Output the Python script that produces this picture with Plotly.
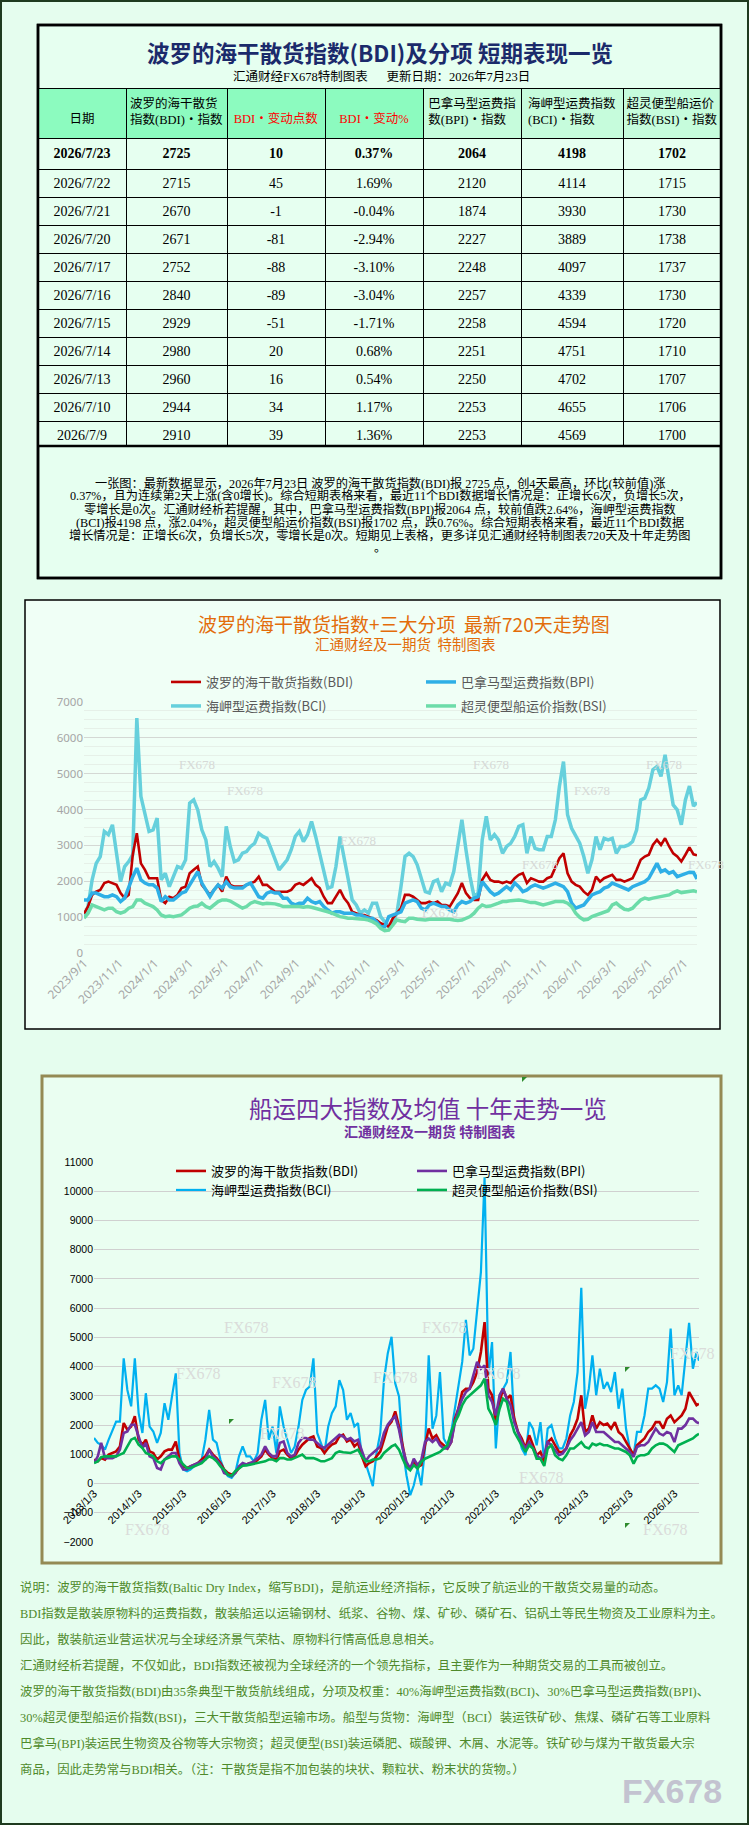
import plotly.graph_objects as go
import pandas as pd

W, H = 749, 1825


def px(x):
    return x / W


def py(y):
    return 1 - y / H


SANS = "Noto Sans CJK SC"
SERIF = "Liberation Serif, Noto Sans CJK SC"

# ---------------- table data ----------------
table_dates = ["2026/7/23", "2026/7/22", "2026/7/21", "2026/7/20", "2026/7/17", "2026/7/16",
               "2026/7/15", "2026/7/14", "2026/7/13", "2026/7/10", "2026/7/9"]
table_bdi = [2725, 2715, 2670, 2671, 2752, 2840, 2929, 2980, 2960, 2944, 2910]
table_chg = [10, 45, -1, -81, -88, -89, -51, 20, 16, 34, 39]
table_pct = ["0.37%", "1.69%", "-0.04%", "-2.94%", "-3.10%", "-3.04%", "-1.71%", "0.68%",
             "0.54%", "1.17%", "1.36%"]
table_bpi = [2064, 2120, 1874, 2227, 2248, 2257, 2258, 2251, 2250, 2253, 2253]
table_bci = [4198, 4114, 3930, 3889, 4097, 4339, 4594, 4751, 4702, 4655, 4569]
table_bsi = [1702, 1715, 1730, 1738, 1737, 1730, 1720, 1710, 1707, 1706, 1700]
table_headers = ["日期", "波罗的海干散货<br>指数(BDI)・指数", "BDI・变动点数", "BDI・变动%",
                 "巴拿马型运费指<br>数(BPI)・指数", "海岬型运费指数<br>(BCI)・指数",
                 "超灵便型船运价<br>指数(BSI)・指数"]

para_lines = [
    "一张图：最新数据显示，2026年7月23日 波罗的海干散货指数(BDI)报 2725 点，创4天最高，环比(较前值)涨",
    "0.37%，且为连续第2天上涨(含0增长)。综合短期表格来看，最近11个BDI数据增长情况是：正增长6次，负增长5次，",
    "零增长是0次。汇通财经析若提醒，其中，巴拿马型运费指数(BPI)报2064 点，较前值跌2.64%，海岬型运费指数",
    "(BCI)报4198 点，涨2.04%，超灵便型船运价指数(BSI)报1702 点，跌0.76%。综合短期表格来看，最近11个BDI数据",
    "增长情况是：正增长6次，负增长5次，零增长是0次。短期见上表格，更多详见汇通财经特制图表720天及十年走势图",
    "。",
]

note_lines = [
    "说明：波罗的海干散货指数(Baltic Dry Index，缩写BDI)，是航运业经济指标，它反映了航运业的干散货交易量的动态。",
    "BDI指数是散装原物料的运费指数，散装船运以运输钢材、纸浆、谷物、煤、矿砂、磷矿石、铝矾土等民生物资及工业原料为主。",
    "因此，散装航运业营运状况与全球经济景气荣枯、原物料行情高低息息相关。",
    "汇通财经析若提醒，不仅如此，BDI指数还被视为全球经济的一个领先指标，且主要作为一种期货交易的工具而被创立。",
    "波罗的海干散货指数(BDI)由35条典型干散货航线组成，分项及权重：40%海岬型运费指数(BCI)、30%巴拿马型运费指数(BPI)、",
    "30%超灵便型船运价指数(BSI)，三大干散货船型运输市场。船型与货物：海岬型（BCI）装运铁矿砂、焦煤、磷矿石等工业原料",
    "巴拿马(BPI)装运民生物资及谷物等大宗物资；超灵便型(BSI)装运磷肥、碳酸钾、木屑、水泥等。铁矿砂与煤为干散货最大宗",
    "商品，因此走势常与BDI相关。（注：干散货是指不加包装的块状、颗粒状、粉末状的货物。）",
]

# ---------------- chart 1 (720 days, weekly readings) ----------------
series_names = ["波罗的海干散货指数(BDI)", "巴拿马型运费指数(BPI)", "海岬型运费指数(BCI)", "超灵便型船运价指数(BSI)"]
c1_start, c1_end = "2023-09-01", "2026-07-23"
c1_bdi = [1100, 1300, 1620, 1710, 1760, 1950, 1990, 1950, 1900, 1670,
          1530, 1620, 2740, 3340, 2500, 2320, 2085, 2085, 2085, 1480,
          1390, 1570, 1530, 1620, 1810, 1850, 2225, 2320, 2410, 1900,
          1760, 1620, 1760, 1900, 1710, 2130, 1900, 1850, 1850, 1850,
          1900, 1950, 1990, 2130, 1900, 1900, 1810, 1710, 1710, 1710,
          1710, 1760, 1900, 1950, 1900, 1990, 2085, 1900, 1810, 1570,
          1390, 1390, 1570, 1760, 1530, 1390, 1150, 1110, 1060, 1060,
          1015, 970, 920, 830, 780, 735, 970, 1110, 1250, 1620,
          1620, 1570, 1480, 1390, 1390, 1435, 1390, 1435, 1340, 1340,
          1295, 1480, 1670, 1950, 1670, 1530, 1480, 1480, 2040, 2225,
          2040, 1990, 1990, 1950, 1990, 1950, 2085, 2180, 2225, 1950,
          2085, 2040, 1990, 1990, 2085, 2130, 2365, 2645, 2780, 2225,
          1990, 1900, 1850, 1710, 1620, 1760, 2130, 1990, 2085, 2130,
          2180, 2040, 2040, 1990, 2040, 2085, 2320, 2600, 2690, 2740,
          3015, 3155, 3015, 3200, 2970, 2780, 2690, 2550, 2740, 2944,
          2752, 2725]
c1_bpi = [1480, 1480, 1670, 1670, 1620, 1570, 1570, 1620, 1570, 1435,
          1530, 1850, 2130, 2365, 2040, 1950, 1900, 1900, 1810, 1435,
          1570, 1480, 1480, 1570, 1670, 1710, 1900, 2085, 2270, 1950,
          1760, 1570, 1760, 1900, 1810, 1990, 1850, 1810, 1810, 1810,
          1900, 1950, 1760, 1570, 1530, 1670, 1710, 1670, 1670, 1530,
          1530, 1390, 1340, 1390, 1390, 1530, 1435, 1390, 1435, 1295,
          1200, 1110, 1150, 1150, 1110, 1110, 1110, 1060, 1060, 1015,
          970, 970, 875, 735, 735, 1015, 1060, 1110, 1150, 1390,
          1435, 1480, 1435, 1250, 1200, 1340, 1390, 1340, 1295, 1295,
          1200, 1150, 1340, 1435, 1390, 1435, 1530, 1570, 1990, 1850,
          1710, 1620, 1670, 1760, 1850, 1760, 1950, 1850, 1710, 1760,
          1850, 1900, 1850, 1810, 1850, 1900, 1950, 1900, 1850, 1710,
          1390, 1250, 1295, 1340, 1480, 1620, 1670, 1710, 1810, 1850,
          1950, 1900, 1850, 1810, 1760, 1850, 1900, 1950, 1990, 2085,
          2270, 2500, 2270, 2320, 2225, 2270, 2130, 2180, 2225, 2253,
          2248, 2064]
c1_bci = [1015, 1300, 2040, 2500, 2690, 3390, 3300, 3575, 2780, 1990,
          2410, 2550, 2740, 6550, 4370, 3900, 3390, 3435, 3760, 2040,
          2225, 1850, 2130, 2410, 2365, 2600, 4180, 4270, 3990, 3435,
          3155, 2410, 2550, 2365, 2130, 3530, 2970, 2550, 2600, 2785,
          2830, 2970, 3060, 3340, 3250, 3200, 2920, 2600, 2320, 2460,
          2600, 2880, 3250, 3390, 3110, 3300, 3670, 3250, 2780, 2320,
          1810, 1850, 2410, 3250, 2690, 2130, 1480, 1340, 1110, 1200,
          1110, 1390, 1390, 1015, 875, 735, 875, 1110, 1850, 2690,
          2780, 2690, 2460, 2040, 1710, 1670, 1990, 2040, 1710, 1950,
          1900, 2270, 2970, 3715, 2880, 2130, 1570, 1670, 3155, 3810,
          3155, 3300, 3155, 2780, 2970, 3060, 3250, 3530, 3575, 2780,
          3250, 2920, 2880, 2880, 3250, 3250, 3715, 4650, 5340, 3855,
          3480, 3250, 3060, 2690, 2225, 2600, 3250, 2880, 3200, 3155,
          3200, 2780, 2970, 2970, 3015, 3110, 3435, 4270, 4320, 4600,
          5110, 5200, 4925, 5530, 4880, 4130, 3990, 3575, 4270, 4655,
          4097, 4198]
c1_bsi = [970, 1110, 1340, 1295, 1250, 1200, 1250, 1250, 1150, 1110,
          1150, 1250, 1295, 1480, 1480, 1390, 1340, 1295, 1200, 1060,
          1015, 1030, 1015, 1030, 1060, 1150, 1250, 1295, 1310, 1390,
          1295, 1250, 1340, 1435, 1480, 1480, 1450, 1390, 1310, 1250,
          1295, 1390, 1435, 1390, 1370, 1390, 1390, 1370, 1340, 1295,
          1295, 1295, 1310, 1295, 1275, 1295, 1275, 1250, 1220, 1200,
          1150, 1110, 1060, 1015, 995, 970, 970, 950, 950, 940,
          920, 875, 810, 690, 625, 640, 780, 920, 895, 875,
          970, 970, 940, 920, 920, 940, 940, 950, 940, 950,
          940, 920, 905, 920, 970, 1015, 1110, 1250, 1340, 1295,
          1310, 1340, 1390, 1435, 1435, 1460, 1480, 1480, 1460, 1435,
          1405, 1405, 1370, 1340, 1370, 1415, 1435, 1435, 1435, 1390,
          1295, 1110, 995, 920, 940, 1015, 1060, 1110, 1150, 1180,
          1340, 1390, 1295, 1220, 1200, 1250, 1370, 1480, 1530, 1500,
          1530, 1555, 1570, 1590, 1620, 1685, 1730, 1685, 1695, 1706,
          1737, 1702]
c1_ticks = ["2023/9/1", "2023/11/1", "2024/1/1", "2024/3/1", "2024/5/1", "2024/7/1",
            "2024/9/1", "2024/11/1", "2025/1/1", "2025/3/1", "2025/5/1", "2025/7/1",
            "2025/9/1", "2025/11/1", "2026/1/1", "2026/3/1", "2026/5/1", "2026/7/1"]

# ---------------- chart 2 (ten years, monthly readings) ----------------
c2_start, c2_end = "2013-01-03", "2026-07-23"
c2_bdi = [820, 760, 870, 820, 990, 1045, 1100, 1270, 2070, 1840,
          1950, 2300, 1500, 1330, 1500, 1100, 1045, 820, 930, 1100,
          1160, 1160, 1440, 820, 590, 530, 590, 650, 700, 820,
          930, 1160, 990, 870, 700, 480, 360, 300, 360, 530,
          650, 650, 700, 700, 820, 930, 1160, 990, 870, 820,
          1100, 1160, 990, 870, 930, 1160, 1330, 1440, 1560, 1610,
          1270, 1215, 1045, 1215, 1330, 1390, 1610, 1670, 1440, 1500,
          1270, 1390, 930, 590, 700, 760, 930, 1100, 1500, 1950,
          2120, 2470, 1950, 1310, 630, 510, 740, 570, 630, 1310,
          1880, 1540, 1650, 1420, 1310, 1200, 1420, 2220, 2560, 3130,
          3245, 3245, 3470, 3815, 4500, 5520, 3245, 3020, 2100, 2790,
          3245, 2900, 3020, 2220, 1765, 1540, 1200, 1650, 1310, 970,
          1080, 740, 1420, 1540, 1310, 1080, 1080, 1200, 1650, 1880,
          2220, 3020, 1765, 1880, 2330, 1880, 2100, 2000, 2050, 1880,
          2100, 1765, 1650, 1420, 1200, 970, 1310, 1420, 1540, 1765,
          1880, 2100, 2100, 1880, 2220, 2330, 2100, 2220, 2330, 2560,
          3130, 2900, 2680, 2725]
c2_bpi = [700, 930, 1390, 870, 870, 870, 930, 1160, 1730, 1780,
          2010, 2010, 1610, 1215, 1390, 930, 870, 530, 480, 820,
          930, 1045, 1045, 700, 480, 480, 590, 650, 700, 760,
          820, 1160, 930, 820, 650, 360, 300, 250, 360, 590,
          700, 650, 700, 760, 870, 990, 1270, 1045, 930, 930,
          1390, 1440, 1045, 930, 990, 1390, 1560, 1560, 1500, 1500,
          1390, 1270, 1215, 1330, 1440, 1560, 1670, 1610, 1500, 1560,
          1440, 1500, 1100, 760, 930, 1045, 1160, 1270, 1730, 2010,
          2180, 2300, 1840, 1200, 740, 510, 850, 630, 800, 1420,
          1540, 1420, 1540, 1310, 1200, 1200, 1420, 2100, 2560, 2900,
          3130, 3245, 3700, 4160, 3930, 4040, 3020, 2790, 2330, 3020,
          3245, 2900, 2680, 2100, 1765, 1420, 1200, 1420, 1200, 970,
          850, 970, 1420, 1310, 1140, 970, 1025, 1200, 1480, 1650,
          1880, 2100, 1650, 1765, 2100, 1765, 1765, 1765, 1650, 1540,
          1420, 1420, 1310, 1200, 1080, 910, 1250, 1310, 1310, 1420,
          1650, 1880, 1710, 1650, 1765, 1710, 1420, 1880, 1880, 2000,
          2220, 2220, 2100, 2064]
c2_bci = [1560, 1390, 1330, 1160, 1500, 1840, 2120, 2120, 4280, 3200,
          2640, 4280, 2410, 1730, 3090, 1950, 1780, 1390, 1730, 2750,
          2180, 2980, 3770, 1045, 480, 420, 480, 590, 700, 820,
          1500, 2520, 1500, 1390, 820, 480, 250, 190, 360, 930,
          1270, 930, 930, 760, 1045, 2180, 2860, 1500, 1950, 1045,
          2640, 1950, 1500, 1045, 1270, 1950, 2860, 3200, 3320, 4280,
          1730, 1390, 1045, 1950, 2410, 2640, 3540, 3200, 2180, 2410,
          1950, 2070, 930, 700, 360, -90, 1045, 1730, 3540, 4450,
          5020, 3430, 2980, 1200, 285, -400, -60, 510, -60, 1200,
          4385, 1880, 2330, 3815, 1540, 1310, 1765, 2560, 3245, 4160,
          5600, 4385, 4610, 6000, 7230, 10480, 3700, 4840, 1200, 3020,
          3245, 3470, 4500, 2100, 1765, 1200, 970, 2100, 1880, 1310,
          2100, 740, 1880, 2000, 1540, 1200, 1200, 1540, 2330, 2790,
          3815, 6700, 2560, 3245, 4385, 3020, 3930, 3245, 3470, 3130,
          3815, 2560, 3245, 1880, 1200, 970, 1765, 1765, 2330, 3245,
          3245, 3360, 3245, 2790, 3470, 5300, 3020, 3360, 3020, 4385,
          5500, 3930, 4500, 4198]
c2_bsi = [700, 760, 900, 930, 930, 930, 930, 990, 1045, 1270,
          1500, 1560, 1330, 1215, 1045, 990, 930, 760, 700, 820,
          870, 930, 930, 820, 650, 530, 530, 590, 650, 700,
          820, 930, 870, 760, 590, 480, 300, 270, 420, 530,
          610, 620, 650, 670, 700, 730, 760, 820, 820, 760,
          870, 870, 820, 820, 870, 930, 990, 870, 870, 870,
          820, 760, 760, 820, 870, 1045, 1100, 1070, 1045, 1045,
          1100, 1160, 930, 760, 760, 820, 820, 870, 1045, 1160,
          1270, 1330, 1160, 850, 570, 450, 630, 510, 740, 850,
          910, 970, 1025, 1080, 1200, 1310, 1765, 2100, 2330, 2680,
          2900, 3020, 3130, 3245, 3360, 3590, 2560, 2330, 2000, 2560,
          2900, 2790, 2220, 1765, 1540, 1310, 1080, 1310, 1200, 850,
          850, 600, 1200, 1310, 970, 850, 800, 970, 1200, 1200,
          1310, 1420, 1250, 1200, 1365, 1310, 1365, 1310, 1310, 1250,
          1200, 1200, 1140, 1080, 970, 680, 910, 970, 970, 1025,
          1200, 1310, 1365, 1365, 1310, 1200, 1080, 1310, 1365, 1420,
          1480, 1540, 1650, 1702]
c2_ticks = ["2013/1/3", "2014/1/3", "2015/1/3", "2016/1/3", "2017/1/3", "2018/1/3", "2019/1/3",
            "2020/1/3", "2021/1/3", "2022/1/3", "2023/1/3", "2024/1/3", "2025/1/3", "2026/1/3"]

# ---------------- derived x values ----------------
c1_dates = list(pd.date_range(c1_start, periods=len(c1_bdi) - 1, freq="7D")) + [pd.Timestamp(c1_end)]
c2_dates = [pd.Timestamp(2013 + m // 12, m % 12 + 1, 3) for m in range(len(c2_bdi) - 1)] + [pd.Timestamp(c2_end)]
c1_tickvals = [pd.Timestamp(t.replace("/", "-")) for t in c1_ticks]
c2_tickvals = [pd.Timestamp(t.replace("/", "-")) for t in c2_ticks]

fig = go.Figure()

# ---------------- table ----------------
cols = [table_dates, table_bdi, table_chg, table_pct, table_bpi, table_bci, table_bsi]
cell_text = [[("<b>%s</b>" % v) if i == 0 else str(v) for i, v in enumerate(col)] for col in cols]
header_text = [h if "<br>" in h else "\u00a0<br>" + h for h in table_headers]
fig.add_trace(go.Table(
    domain=dict(x=[px(38), px(721)], y=[py(447), py(88)]),
    columnwidth=[88, 101, 98, 98, 98, 102, 98],
    header=dict(values=header_text, height=50, align="center",
                fill_color=["#8CFBBF", "#8CFBBF", "#8CFBBF", "#8CFBBF", "#C6FCDC", "#C6FCDC", "#C6FCDC"],
                line=dict(color="#000000", width=1),
                font=dict(family=SERIF, size=12.5,
                          color=["#000", "#000", "#FF0000", "#FF0000", "#000", "#000", "#000"])),
    cells=dict(values=cell_text, height=28, align="center", fill_color="#E6FFF0",
               line=dict(color="#000000", width=1),
               font=dict(family=SERIF, size=14, color="#000000")),
))

# ---------------- chart 1 traces ----------------
c1_specs = [(c1_bci, series_names[2], "#66D0DC", 3.5, "legend2"),
            (c1_bdi, series_names[0], "#C00000", 2.6, "legend"),
            (c1_bpi, series_names[1], "#2EAFE6", 3.5, "legend"),
            (c1_bsi, series_names[3], "#6CDCA9", 3.5, "legend2")]
for vals, name, color, lw, lg in c1_specs:
    fig.add_trace(go.Scatter(x=c1_dates, y=vals, name=name, mode="lines",
                             line=dict(color=color, width=lw), xaxis="x", yaxis="y",
                             legend=lg, hoverinfo="skip"))

# ---------------- chart 2 traces ----------------
c2_specs = [(c2_bci, series_names[2], "#00B0F0", 2.2, "legend4"),
            (c2_bdi, series_names[0], "#C00000", 2.6, "legend3"),
            (c2_bpi, series_names[1], "#7030A0", 2.6, "legend3"),
            (c2_bsi, series_names[3], "#00B050", 2.6, "legend4")]
for vals, name, color, lw, lg in c2_specs:
    fig.add_trace(go.Scatter(x=c2_dates, y=vals, name=name, mode="lines",
                             line=dict(color=color, width=lw), xaxis="x2", yaxis="y2",
                             legend=lg, hoverinfo="skip"))

# ---------------- shapes ----------------
shapes = []
shapes.append(dict(type="rect", xref="paper", yref="paper", x0=px(1), x1=px(748), y0=py(1824), y1=py(1),
                   line=dict(color="#1F3A1F", width=2), layer="below"))
shapes.append(dict(type="rect", xref="paper", yref="paper", x0=px(38), x1=px(721), y0=py(578), y1=py(25),
                   line=dict(color="#000000", width=2.5), fillcolor="#E6FFF0", layer="below"))
shapes.append(dict(type="line", xref="paper", yref="paper", x0=px(38), x1=px(721), y0=py(446), y1=py(446),
                   line=dict(color="#000000", width=2.5)))
shapes.append(dict(type="rect", xref="paper", yref="paper", x0=px(38), x1=px(721), y0=py(578), y1=py(25),
                   line=dict(color="#000000", width=2.5), fillcolor="rgba(0,0,0,0)"))
shapes.append(dict(type="rect", xref="paper", yref="paper", x0=px(25), x1=px(720), y0=py(1029), y1=py(600),
                   line=dict(color="#000000", width=1.5), fillcolor="#F0FFF6", layer="below"))
shapes.append(dict(type="rect", xref="paper", yref="paper", x0=px(42), x1=px(721), y0=py(1563), y1=py(1076),
                   line=dict(color="#948A54", width=3), fillcolor="#EAFEF1", layer="below"))
for (tx, ty) in [(522, 1077), (229, 1419), (625, 1367), (625, 1523)]:
    shapes.append(dict(type="path", xref="paper", yref="paper",
                       path="M %f,%f L %f,%f L %f,%f Z" % (px(tx), py(ty), px(tx + 5), py(ty), px(tx), py(ty + 5)),
                       fillcolor="#2E8B2E", line=dict(width=0)))

# ---------------- annotations ----------------
ann = []


def text(x, y, s, size, color, family=SANS, xanchor="center", bold=False):
    ann.append(dict(xref="paper", yref="paper", x=px(x), y=py(y), text=("<b>%s</b>" % s) if bold else s,
                    showarrow=False, xanchor=xanchor, yanchor="middle",
                    font=dict(family=family, size=size, color=color)))


text(380, 52, "波罗的海干散货指数(BDI)及分项 短期表现一览", 22.5, "#1B2A6B", bold=True)
text(381, 77, "汇通财经FX678特制图表\u3000\u00a0\u00a0更新日期：2026年7月23日", 12.5, "#000000", family=SERIF)
for i, line in enumerate(para_lines):
    text(380, 483 + 13 * i, line, 12.2, "#000000", family=SERIF)

text(404, 623, "波罗的海干散货指数+三大分项  最新720天走势图", 19, "#E36C0A")
text(405, 643, "汇通财经及一期货  特制图表", 14.5, "#E36C0A")

text(428, 1108, "船运四大指数及均值 十年走势一览", 23.5, "#7030A0")
text(429, 1131, "汇通财经及一期货 特制图表", 14, "#7030A0", bold=True)

for i, line in enumerate(note_lines):
    text(18, 1587 + 26 * i, line, 12.4, "#4F8A2B", family=SERIF, xanchor="left")

for (wx, wy) in [(197, 765), (491, 765), (664, 765), (245, 790), (592, 790), (358, 840), (540, 864),
                 (706, 864), (440, 912)]:
    text(wx, wy, "FX678", 13, "#D6D9D6", family="Liberation Serif")
for (wx, wy) in [(246, 1327), (444, 1327), (198, 1373), (294, 1382), (395, 1377), (498, 1373), (692, 1353),
                 (541, 1477), (147, 1529), (665, 1529), (282, 1433)]:
    text(wx, wy, "FX678", 16, "#DADCDA", family="Liberation Serif")
text(672, 1791, "FX678", 34, "#C3C3D0", family="Liberation Sans", bold=True)

# ---------------- layout ----------------
legend_common = dict(orientation="h", xanchor="left", yanchor="middle", bgcolor="rgba(0,0,0,0)",
                     entrywidthmode="pixels", borderwidth=0, traceorder="normal")
fig.update_layout(
    width=W, height=H, margin=dict(l=0, r=0, t=0, b=0, pad=0, autoexpand=False),
    paper_bgcolor="#E5FDEE", plot_bgcolor="rgba(0,0,0,0)",
    showlegend=True,
    legend=dict(legend_common, x=px(166), y=py(682), entrywidth=210,
                font=dict(family=SANS, size=13, color="#595959")),
    legend2=dict(legend_common, x=px(166), y=py(706), entrywidth=210,
                 font=dict(family=SANS, size=13, color="#595959")),
    legend3=dict(legend_common, x=px(171), y=py(1171), entrywidth=196,
                 font=dict(family=SANS, size=13, color="#000000")),
    legend4=dict(legend_common, x=px(171), y=py(1190), entrywidth=196,
                 font=dict(family=SANS, size=13, color="#000000")),
    xaxis=dict(domain=[px(84), px(697)], anchor="y", type="date", range=[c1_start, c1_end],
               tickmode="array", tickvals=c1_tickvals, ticktext=c1_ticks, tickangle=-45,
               tickfont=dict(family="Noto Sans", size=12, color="#A6A6A6"), automargin=False,
               showgrid=False, zeroline=False, showline=False, ticks=""),
    yaxis=dict(domain=[py(953), py(702)], anchor="x", range=[0, 7000], dtick=1000, tickformat="d",
               gridcolor="#D4D8D4", gridwidth=1, zeroline=False, showline=False, automargin=False,
               tickfont=dict(family="Noto Sans", size=11.5, color="#A6A6A6"),
               minor=dict(dtick=250, showgrid=True, gridcolor="#E6F0E8", gridwidth=1)),
    xaxis2=dict(domain=[px(94), px(699)], anchor="free", position=py(1484), type="date",
                range=[c2_start, c2_end], tickmode="array", tickvals=c2_tickvals, ticktext=c2_ticks,
                tickangle=-45, tickfont=dict(family="Liberation Sans", size=11, color="#000000"),
                showgrid=False, zeroline=False, showline=False, ticks="", automargin=False),
    yaxis2=dict(domain=[py(1542), py(1162)], anchor="x2", range=[-2000, 11000], dtick=1000, tickformat="d",
                gridcolor="#D0D0D0", gridwidth=1, zeroline=False, showline=False, automargin=False,
                tickfont=dict(family="Liberation Sans", size=10.5, color="#000000")),
    shapes=shapes,
    annotations=ann,
)

fig.write_html("out.html", config={"displayModeBar": False},
               post_script="document.body.style.margin='0';")
